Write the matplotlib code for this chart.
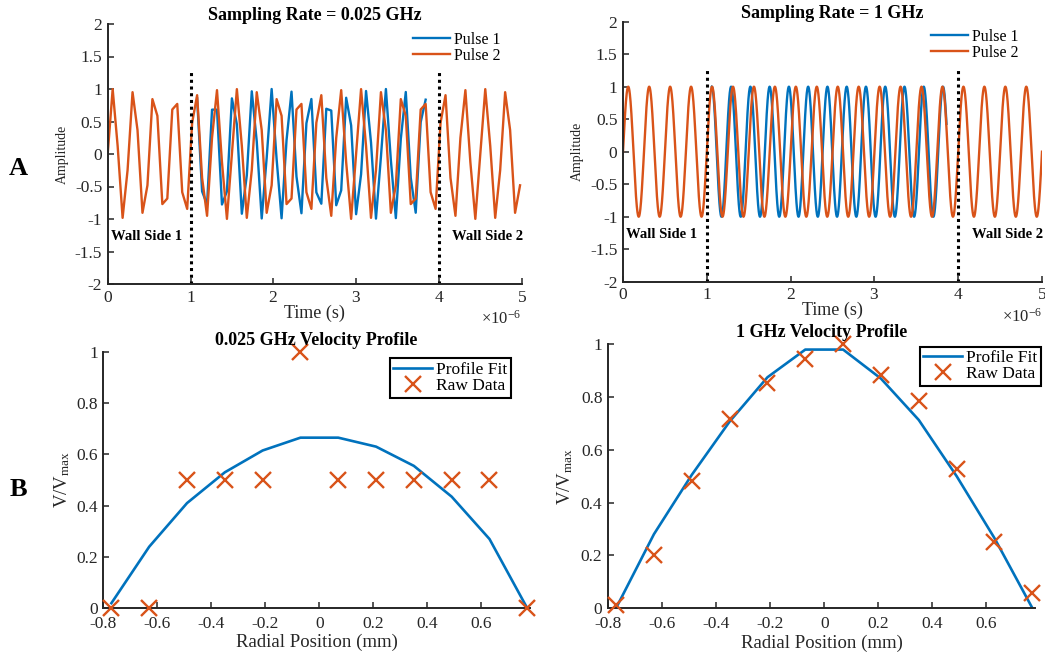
import numpy as np
import matplotlib
matplotlib.use('Agg')
import matplotlib.pyplot as plt
from matplotlib.ticker import ScalarFormatter, FuncFormatter

plt.rcParams['font.family'] = 'Liberation Serif'
plt.rcParams['mathtext.fontset'] = 'custom'
plt.rcParams['mathtext.rm'] = 'Liberation Serif'
plt.rcParams['mathtext.it'] = 'Liberation Serif:italic'
plt.rcParams['axes.unicode_minus'] = False

# Pulse traces (times in microseconds, frequencies in MHz)
record_us = 5.0
pulse2_mhz = 4.0            # reference pulse, runs over the whole record
pulse1_mhz = 4.35           # shifted pulse, only between the walls
pulse1_crest_us = 1.29      # first crest of pulse 1
pulse1_on_us = 1.06
pulse1_off_us = 3.86
coarse_step_us = 0.06       # spacing of the coarse trace samples
fine_step_us = 0.001        # 1 GHz
wall_us = [1.0, 4.0]
wall_top = 1.27

# Velocity profiles
radial_mm = [-0.77, -0.63, -0.49, -0.35, -0.21, -0.07, 0.07, 0.21, 0.35, 0.49, 0.63, 0.77]
fit_coarse = [0.02, 0.24, 0.41, 0.53, 0.615, 0.665, 0.665, 0.63, 0.555, 0.435, 0.27, 0.0]
raw_coarse = [0.0, 0.0, 0.5, 0.5, 0.5, 1.0, 0.5, 0.5, 0.5, 0.5, 0.5, 0.0]
fit_fine = [0.0, 0.28, 0.505, 0.707, 0.875, 0.98, 0.98, 0.87, 0.713, 0.5, 0.265, 0.0]
raw_fine = [0.01, 0.20, 0.48, 0.715, 0.855, 0.945, 1.0, 0.885, 0.785, 0.527, 0.25, 0.055]

BLUE = '#0072BD'
ORANGE = '#D95319'
AXC = '#262626'


def sample_pulses(step_us):
    t = np.arange(0, record_us + step_us / 2, step_us)
    p2 = np.sin(2 * np.pi * pulse2_mhz * t)
    p1 = np.cos(2 * np.pi * pulse1_mhz * (t - pulse1_crest_us))
    p1[(t < pulse1_on_us) | (t > pulse1_off_us)] = np.nan
    return t * 1e-6, p1, p2


def tick_fmt(v, pos):
    return '%g' % (round(v, 2) + 0.0)


def style_axes(ax):
    for side in ['top', 'right']:
        ax.spines[side].set_visible(False)
    for side in ['left', 'bottom']:
        ax.spines[side].set_linewidth(1.4)
        ax.spines[side].set_color(AXC)
    ax.tick_params(direction='in', length=4, width=1.1, colors=AXC,
                   labelsize=12.5, pad=4)
    ax.yaxis.set_major_formatter(FuncFormatter(tick_fmt))


W, H = 1045, 655
fig = plt.figure(figsize=(W / 100, H / 100), dpi=100)


def px_axes(x0, x1, ytop, ybot):
    return fig.add_axes([x0 / W, (H - ybot) / H, (x1 - x0) / W, (ybot - ytop) / H])


ax_tl = px_axes(107.7, 521.7, 24, 284)
ax_tr = px_axes(623, 1042, 21.7, 281.7)
ax_bl = px_axes(103.3, 530, 351.7, 608.3)
ax_br = px_axes(608, 1035, 344.3, 608)

# --- pulse traces ---
for ax, step, title, tpad in [(ax_tl, coarse_step_us, 'Sampling Rate = 0.025 GHz', 3),
                              (ax_tr, fine_step_us, 'Sampling Rate = 1 GHz', 2.7)]:
    t, p1, p2 = sample_pulses(step)
    ax.plot(t, p1, color=BLUE, lw=1.7, label='Pulse 1')
    ax.plot(t, p2, color=ORANGE, lw=1.7, label='Pulse 2')
    ax.vlines(np.array(wall_us) * 1e-6, -2, wall_top, colors='black',
              linestyles=(0, (1, 1.2)), lw=2.2)
    ax.set_xlim(0, record_us * 1e-6)
    ax.set_ylim(-2, 2)
    ax.set_yticks(np.arange(-2, 2.01, 0.5))
    style_axes(ax)
    fmt = ScalarFormatter(useMathText=True)
    fmt.set_powerlimits((-3, 3))
    ax.xaxis.set_major_formatter(fmt)
    ax.xaxis.get_offset_text().set_fontsize(12)
    ax.xaxis.get_offset_text().set_color(AXC)
    ax.set_title(title, fontsize=13, fontweight='bold', pad=tpad)
    ax.set_xlabel('Time (s)', fontsize=13, color=AXC)
    ax.xaxis.set_label_coords(0.5, -0.078)
    ax.set_ylabel('Amplitude', fontsize=10, color=AXC)
    ax.yaxis.set_label_coords(-0.093, 0.5)
    ax.text(0.04e-6, -1.27, 'Wall Side 1', fontsize=10.5, fontweight='bold',
            va='center', ha='left')
    ax.text(4.16e-6, -1.27, 'Wall Side 2', fontsize=10.5, fontweight='bold',
            va='center', ha='left', clip_on=False)

top_leg = dict(loc='upper left', bbox_transform=fig.transFigure, frameon=False,
               fontsize=11.5, handlelength=2.3, handletextpad=0.25,
               labelspacing=0.0, borderpad=0, borderaxespad=0)
ax_tl.legend(bbox_to_anchor=(413 / W, 1 - 32 / H), **top_leg)
ax_tr.legend(bbox_to_anchor=(931 / W, 1 - 29 / H), **top_leg)

# --- velocity profiles ---
for ax, fit, raw, title, xl_y, yl_x in [
        (ax_bl, fit_coarse, raw_coarse, '0.025 GHz Velocity Profile', -0.1, -0.073),
        (ax_br, fit_fine, raw_fine, '1 GHz Velocity Profile', -0.102, -0.077)]:
    ax.plot(radial_mm, fit, color=BLUE, lw=1.9, label='Profile Fit')
    ax.plot(radial_mm, raw, ls='none', marker='x', ms=11, mew=1.7,
            color=ORANGE, label='Raw Data', clip_on=False, zorder=3)
    ax.set_xlim(-0.8, 0.78)
    ax.set_ylim(0, 1)
    ax.set_xticks(np.arange(-0.8, 0.61, 0.2))
    ax.set_yticks(np.arange(0, 1.01, 0.2))
    style_axes(ax)
    ax.tick_params(axis='x', pad=5.5)
    ax.xaxis.set_major_formatter(FuncFormatter(tick_fmt))
    ax.set_title(title, fontsize=13, fontweight='bold', pad=5)
    ax.set_xlabel('Radial Position (mm)', fontsize=13.5, color=AXC)
    ax.xaxis.set_label_coords(0.5, xl_y)
    ax.set_ylabel('V/V$_{\\rm max}$', fontsize=13.5, color=AXC)
    ax.yaxis.set_label_coords(yl_x, 0.5)

leg_kw = dict(bbox_transform=fig.transFigure, loc='upper left', fontsize=12.5,
              handlelength=2.2, handletextpad=0.25, labelspacing=0.0,
              borderpad=0.2, borderaxespad=0, fancybox=False, framealpha=1)
lg = ax_bl.legend(bbox_to_anchor=(390 / W, 1 - 358.3 / H), **leg_kw)
lg.get_frame().set_edgecolor('black')
lg.get_frame().set_linewidth(1.5)
lg = ax_br.legend(bbox_to_anchor=(920 / W, 1 - 346.7 / H), **leg_kw)
lg.get_frame().set_edgecolor('black')
lg.get_frame().set_linewidth(1.5)

# row labels
fig.text(18 / W, 1 - 168 / H, 'A', fontsize=19, fontweight='bold', ha='center', va='center')
fig.text(18 / W, 1 - 490 / H, 'B', fontsize=19, fontweight='bold', ha='center', va='center')

fig.savefig('out.png', dpi=100, facecolor='white')
